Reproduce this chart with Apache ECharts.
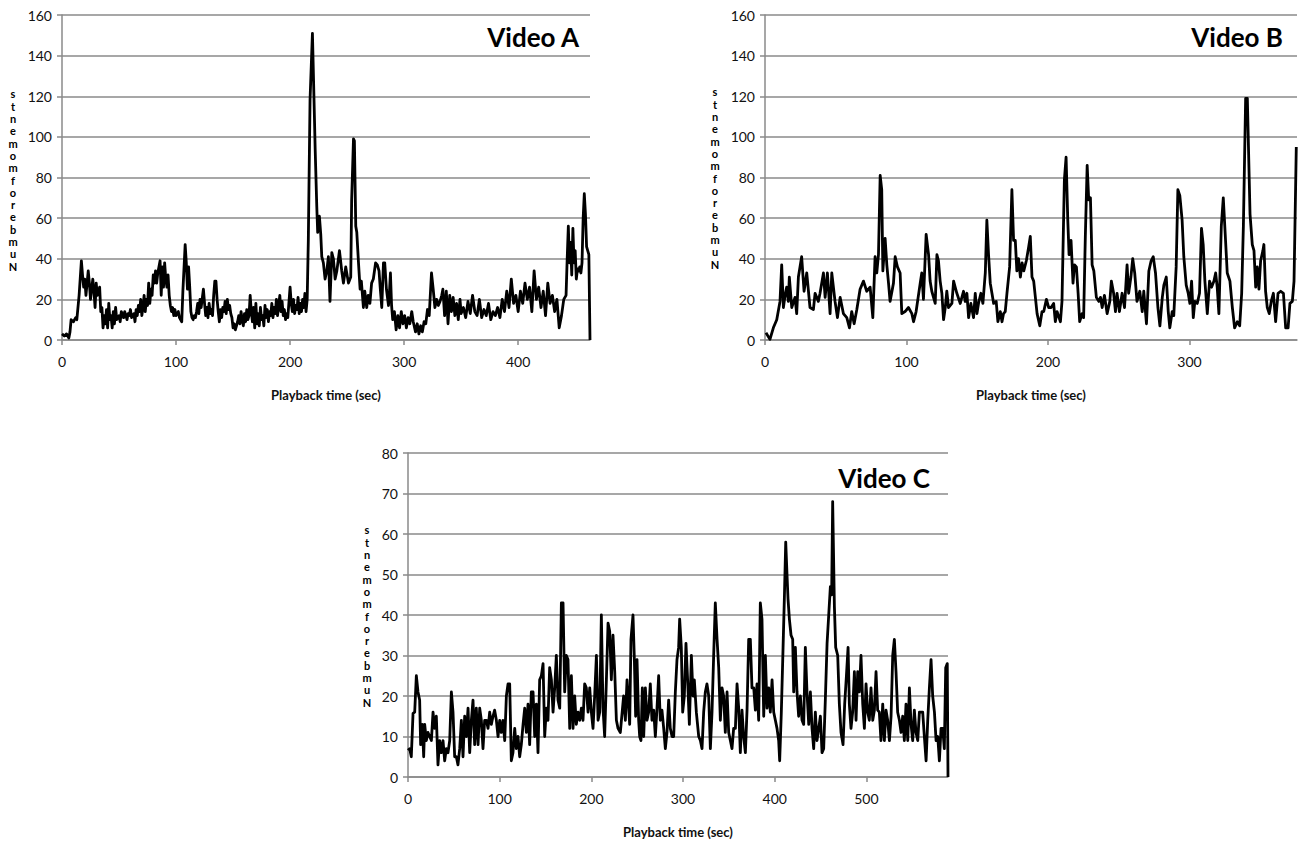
<!DOCTYPE html>
<html><head><meta charset="utf-8">
<script src="https://cdn.jsdelivr.net/npm/echarts@6/dist/echarts.min.js"></script>
<style>html,body{margin:0;padding:0;background:#fff}#c{width:1299px;height:841px}</style>
</head><body><div id="c"></div>
<script>
// ---------- Video A ----------
const timeA = [0,2,4,6,7,8,10,12,13,15,17,18,19,20,21,23,24,25,27,28,29,30,31,33,34,35,36,37,38,39,40,41,42,43,44,45,46,47,48,50,51,52,54,55,57,58,59,60,61,63,64,65,66,67,68,69,70,71,72,73,74,75,76,77,78,79,80,81,82,83,84,86,87,88,89,90,91,92,93,94,95,96,97,98,99,100,102,103,105,106,108,109,110,111,112,113,114,115,116,117,118,119,120,121,122,124,125,126,127,128,129,130,131,132,133,134,135,136,137,138,139,140,141,142,143,144,145,146,147,148,149,150,151,152,153,154,155,156,157,158,159,160,161,162,163,164,165,166,167,168,169,170,171,172,173,174,175,176,177,178,179,180,181,182,183,184,185,186,187,188,189,190,191,192,193,194,195,196,197,198,200,201,202,203,204,205,206,207,208,209,210,211,212,213,214,215,216,217.5,219.6,221,222,223.4,224.2,225.7,226.9,227.8,229.2,230.7,232.2,233.6,235,236.6,238,239.5,241,243.3,245.3,246.8,248.8,251.2,253.2,254,255.6,256.4,257.6,258.5,260,261.4,262.5,264.3,265.5,267.2,268.5,270,271.5,273,275,276.5,278,279,280.4,281.9,283,284.5,286.3,287,288,289,290,291.5,293,294.5,296,297.5,299,300.5,302,303.5,305,306.7,308,310,311.5,313,314.5,316,317.5,319,320.5,322,324,325.5,327,328.5,330,331.5,333,334,335.5,337,338.5,340,341.5,343,344.5,346,347.5,349,350,352,354,356,358,360,362,364,366,368,370,372,374,376,378,380,382,384,386,388,390,392,394,396,398,400,402,404,406,408,410,412,414,416,418,420,422,424,426,428,430,432,434,436,438,440,442,443,444,445,446,447,448,449,450,451,452,453,454,455,456,457,458,459,460,461,462,463];
const momentsA = [3,2,3,1,4,10,9,11,10,22,39,32,26,30,22,34,28,20,30,24,16,28,22,26,14,16,6,12,8,15,6,18,10,12,6,14,8,16,10,12,9,14,11,14,10,13,12,15,11,13,9,15,12,17,14,20,12,16,22,14,20,17,28,18,25,22,32,28,34,28,33,39,22,36,26,38,30,26,32,22,17,14,16,12,15,12,14,11,9,24,47,38,25,36,26,14,11,10,12,11,14,18,13,20,16,25,18,12,16,11,18,13,15,12,22,29,29,20,14,9,15,11,16,14,19,13,20,15,17,13,11,6,8,5,7,9,12,8,14,10,7,13,9,15,10,12,22,14,9,16,6,18,8,13,7,16,10,12,7,17,11,15,9,14,12,18,11,16,13,20,12,17,22,14,19,12,15,10,13,11,26,18,14,20,13,17,15,21,13,18,14,20,16,23,14,20,49,118,151,118,94,66,53,61,52,41,38,30,34,41,19,43,40,30,34,44,34,28,36,28,31,69,99,98,56,53,38,25,29,16,24,16,22,18,28,30,38,37,34,26,16,38,38,25,17,22,33,17,10,14,5,12,6,14,8,12,6,11,8,14,9,4,8,3,7,4,9,8,15,12,33,25,16,20,17,19,22,25,12,24,8,22,14,21,12,18,10,20,13,16,11,19,13,22,14,12,20,11,15,12,18,10,14,12,16,11,20,14,24,16,30,18,22,14,24,18,28,20,26,14,34,20,26,16,24,12,28,18,22,14,20,6,12,20,22,40,56,38,48,32,55,38,44,30,35,34,36,33,38,60,72,62,46,44,42,0];
// ---------- Video B ----------
const timeB = [0.7,3.5,5.9,8.3,10.6,11.8,13,14.2,15.3,16.5,17.2,18.9,21.2,22.4,23.6,25.9,27.6,29.5,31.8,34.2,35.4,37.7,38.9,41.3,42.5,44.1,46,47.2,49.5,51.2,53.1,55.4,57.8,59.7,61.3,63,64.9,67.2,69.6,71.9,74.3,76.2,77.8,79,80.2,81.4,82.5,83.3,84.9,86.1,87.3,88.4,90.8,92,93.6,95.5,96.7,99,101.4,103.8,105,106.8,109.7,110.8,112,113.9,115.6,116.7,117.9,119.1,120.3,121.5,122.6,123.8,125,126.2,127.4,128.5,129.7,132.1,133.3,134.4,135.6,138,140.3,141.5,142.7,143.9,145.5,147.4,148.6,149.8,150.9,152.6,154,155.7,156.8,158,159.2,160.4,161.6,163.4,164.6,166.3,167.5,168.6,169.8,171,172.9,174.5,175.7,176.9,178,179.2,180.5,181.7,182.9,184.7,186.4,187.5,188.7,189.9,192.3,194.2,195.8,197,198.9,200.5,202.2,204,205.2,206.4,208.8,209.9,211.6,212.8,214,214.9,216.3,217.7,218.7,220.1,221.3,222.4,224.1,225.2,226.4,227.7,228.8,230,231.2,232.4,234.2,235.9,237.1,238.3,239.9,241.8,243.7,244.8,246.4,247.7,248.8,250.5,252.4,254.1,255.9,257,258.6,259.9,261.3,262.9,264.9,266.6,267.7,269.6,271.3,272.9,274.4,276,277.7,279.1,280.8,281.9,283.6,285,286.1,287.8,288.9,290.6,291.8,293.2,294.8,296,297.7,299.1,300.3,301.5,302.7,303.8,305.5,307.1,308.5,309.7,310.9,312.6,314.2,315.6,317.3,318.5,319.6,320.8,322.5,323.9,325.5,326.7,328.6,330.3,331.9,333.8,335.5,336.9,338.1,339.7,340.9,342.8,344.4,345.6,346.8,347.9,349.1,350.3,351.9,352.6,353.8,355,356.4,357.8,359.3,360.9,362.6,364.5,366.4,368,369.7,371,372.7,373.9,375.5];
const momentsB = [3.6,0.3,6,10,19,37,16,22,26,19,31,16,21,13,31,41,24,33,16,15,23,19,23,33,21,33,13,33,19,11,21,13,11,6,14,8,15,25,29,24,26,11,41,33,42,81,74,34,50,37,28,19,28,41,36,33,13,14,16,13,9,14,28,33,20,52,42,29,24,21,18,42,39,29,23,10,16,24,16,18,29,26,23,18,24,19,23,11,18,11,23,13,18,23,18,33,59,42,28,23,18,19,9,14,9,13,14,23,36,74,49,49,34,40,31,38,34,39,46,51,31,29,13,7,14,14,20,16,16,18,9,14,9,19,79,90,59,42,49,28,37,36,23,9,13,11,51,86,69,70,37,34,21,19,21,16,22,13,19,29,23,14,23,14,23,16,37,23,31,40,33,19,24,14,24,8,34,39,41,33,16,7,21,27,31,14,6,14,12,36,74,71,59,41,27,23,18,29,11,19,18,23,55,47,29,13,29,26,29,33,26,13,56,70,49,33,29,16,6,9,7,23,56,119,119,62,47,44,26,36,25,39,44,47,24,16,13,19,23,9,23,24,23,6,6,18,19,29,95];
// ---------- Video C ----------
const timeC = [0,1.8,3.6,5.5,7.3,9.1,10.9,12.7,13.8,15.6,17.1,18.2,20,21.8,23.6,25.5,27.3,29.1,30.9,32.7,34.5,36.4,38.2,40,41.8,43.6,45.5,47.3,49.1,50.9,52.7,54.5,56.4,58.2,60,61.8,63.6,65.5,67.3,69.1,70.9,72.7,74.5,76.4,78.2,80,81.8,83.6,85.5,87.3,89.1,90.9,92.7,94.5,96.4,98.2,100,101.8,103.6,105.5,107.3,109.1,110.9,112.7,114.5,116.4,118.2,120,121.8,123.6,125.5,127.3,129.1,130.9,132.7,134.5,136.4,138.2,140,141.8,143.6,145.5,147.3,149.1,150.9,152.7,154.5,156.4,158.2,160,161.8,163.6,165.5,167.3,169.1,170.9,172.7,174.5,176.4,178.2,180,181.8,183.6,185.5,187.3,189.1,190.9,192.7,194.5,196.4,198.2,200,201.8,203.6,205.5,207.3,209.1,210.9,212.7,214.5,216.4,218.2,220,221.8,223.6,225.5,227.3,229.1,231.6,235.2,237.1,238.9,241.8,243.2,245.4,246.9,248.3,249.8,251.6,252.7,254.1,255.6,257.1,258.9,260.7,262.5,264.3,266.1,268,269.8,271.6,273.4,275.2,277,278.9,280.7,282.5,284.3,286.1,288,289.8,291.6,293.4,295.2,296.3,298.1,299.6,301.4,303.2,305,306.9,309.1,310.9,312.3,314.5,317.1,318.9,320.7,322.5,324.3,326.1,328,329.8,331.6,333.4,335.2,337.1,338.9,340.7,342.5,344.3,346.1,348,349.8,351.6,353.4,355.2,357.1,358.9,360.7,362.5,364.3,366.1,368,369.8,371.6,373.4,375.2,377.1,378.9,380.7,382.5,384.3,386.1,388,389.8,391.6,393.4,395.2,397.1,398.9,400.7,402.5,404.3,405.4,407.2,409.1,410.5,412,413.4,414.5,416,417.8,419.6,420.7,422.5,424.3,426.1,428,429.8,431.6,433.4,435.2,437.1,438.9,440.7,442.5,444.3,446.1,448,449.8,451.6,453.4,455.2,457.1,458.9,460.7,462.1,463.2,465.1,466.5,468.7,470.5,472.3,474.5,476.3,478.2,480,481.4,483.2,485,486.9,488.7,490.5,492.3,494.1,496,497.8,499.6,501.4,503.2,505,506.9,508.7,510.5,512.3,514.1,515.9,517.8,519.6,521.4,523.2,525.1,526.9,528.7,530.5,532.3,534.1,536,537.8,539.6,541.4,543.2,545.1,546.9,548.7,550.5,552.3,554.1,556,557.8,559.6,561.4,563.2,565.1,566.9,568.7,570.5,572.3,574.2,576,577.8,579.6,581.4,583.2,585,586.5,588.2,589];
const momentsC = [6.6,7,5,15.7,16,25,21,19,8,13,5,13,9,11,10,9,16,12,15,3,9,6,9,4,7,6,9,21,16,5,5,3,7,14,5,15,10,17,6,14,19,8,17,8,17,14,7,14,14,12,16,13,15,16.5,14,10,14,11,14,9,20,23,23,4,6,12,7,10,5,8,13,17,11,18,8,21,21,10,18,6,24,25,28,10,17,14,27,24,16,22,30,19,17,43,43,21,30,29,12,25,12,20,13,16,14,17,14,23,22,16,22,16,12,20,30,14,16,40,17,10,24,38,36,24,35,26,14,12,11,20,14,24,13,34,40,29,15,29,14,10,9,22,10,22,14,16,23,14,16.5,10,17,25,14,16.5,12,7,11,19,12,10,10,21,29,32,39,32,16,20,33,24,13,30,20,24,16,10,9,7,16,21,23,20,7,16,30,43,34,27,14,22,20,11,21,11,9,7,12,12,23,17,6,16.5,10,6,16.5,34,34,22,22,16.5,23,14,43,39,15,30,17,22,16,24,16,14,12,9,4,16,32,44,58,50,44,39,35,34,21,32,21,15,20,14,13,32,21,13,21,12,7,16,9,12,15,6,7,19,33,40,47,45,68,42,32,30,18,11,8,18,25,32,18,12,16,26,14,26,21,30,18,12,23,16,14,22,14,16.5,26,16.5,16,9,18,9,16.5,14,9,15,30,34,26,16,14,11,15,9,18,9,22,13,9,16.5,11,9,16,16,16,10,4,14,22,29,20,16,9,10,4,12,12,7,27,28,0];

const maxTime = {A: 463, B: 376, C: 589};
const xTickValues = {A: [0,100,200,300,400], B: [0,100,200,300], C: [0,100,200,300,400,500]};
const yMax = {A: 160, B: 160, C: 80};
const yStep = {A: 20, B: 20, C: 10};
const titles = {A: 'Video A', B: 'Video B', C: 'Video C'};
const xTitle = 'Playback time (sec)';
const yTitle = 'Number of moments';

const FONT = 'Lato, "Open Sans", sans-serif';
const GRID_COLOR = '#8a8a8a';
const keys = ['A','B','C'];
const grids = [
  {left: 62, top: 15, width: 528, height: 325},
  {left: 765, top: 15, width: 532, height: 325},
  {left: 408, top: 453, width: 540, height: 324}
];
const seriesData = {
  A: timeA.map((t,i)=>[t, momentsA[i]]),
  B: timeB.map((t,i)=>[t, momentsB[i]]),
  C: timeC.map((t,i)=>[t, momentsC[i]])
};

// the reference draws the y-axis title as a column of upright letters, last letter on top
const stacked = yTitle.replace(/ /g, '').split('').reverse().join('\n');

const option = {
  animation: false,
  backgroundColor: '#ffffff',
  grid: grids.map(g => Object.assign({containLabel: false}, g)),
  xAxis: keys.map((k,i) => ({
    type: 'value', gridIndex: i, min: 0, max: maxTime[k], interval: 100,
    name: xTitle, nameLocation: 'middle', nameGap: 48,
    nameTextStyle: {fontFamily: FONT, fontWeight: 'bold', fontSize: 13, color: '#111'},
    axisLine: {show: true, lineStyle: {color: GRID_COLOR, width: 1.5}},
    axisTick: {show: true, length: 5, inside: false, customValues: xTickValues[k], lineStyle: {color: GRID_COLOR, width: 1.5}},
    axisLabel: {customValues: xTickValues[k], fontFamily: FONT, fontSize: 14, color: '#111', margin: 14},
    splitLine: {show: false}
  })),
  yAxis: keys.map((k,i) => ({
    type: 'value', gridIndex: i, min: 0, max: yMax[k], interval: yStep[k],
    axisLine: {show: true, lineStyle: {color: GRID_COLOR, width: 1.5}},
    axisTick: {show: true, length: 5, lineStyle: {color: GRID_COLOR, width: 1.5}},
    axisLabel: {fontFamily: FONT, fontSize: 14, color: '#111', margin: 10},
    splitLine: {show: true, lineStyle: {color: GRID_COLOR, width: 1.5}}
  })),
  series: keys.map((k,i) => ({
    type: 'line', xAxisIndex: i, yAxisIndex: i, data: seriesData[k],
    showSymbol: false, symbol: 'none', smooth: false,
    lineStyle: {color: '#000', width: 2.8, join: 'round'}
  })),
  graphic: [
    {type: 'text', x: 579, y: 37, style: {text: titles.A, font: 'bold 26px ' + FONT, fill: '#000', align: 'right', verticalAlign: 'middle'}},
    {type: 'text', x: 1283, y: 37, style: {text: titles.B, font: 'bold 26px ' + FONT, fill: '#000', align: 'right', verticalAlign: 'middle'}},
    {type: 'text', x: 930, y: 478, style: {text: titles.C, font: 'bold 26px ' + FONT, fill: '#000', align: 'right', verticalAlign: 'middle'}},
    {type: 'text', x: 13, y: 180, style: {text: stacked, font: 'bold 11px ' + FONT, lineHeight: 12.3, fill: '#000', align: 'center', verticalAlign: 'middle'}},
    {type: 'text', x: 715, y: 178, style: {text: stacked, font: 'bold 11px ' + FONT, lineHeight: 12.3, fill: '#000', align: 'center', verticalAlign: 'middle'}},
    {type: 'text', x: 367, y: 616, style: {text: stacked, font: 'bold 11px ' + FONT, lineHeight: 12.3, fill: '#000', align: 'center', verticalAlign: 'middle'}}
  ]
};
const chart = echarts.init(document.getElementById('c'), null, {renderer: 'svg', width: 1299, height: 841});
chart.setOption(option);
</script>
</body></html>
